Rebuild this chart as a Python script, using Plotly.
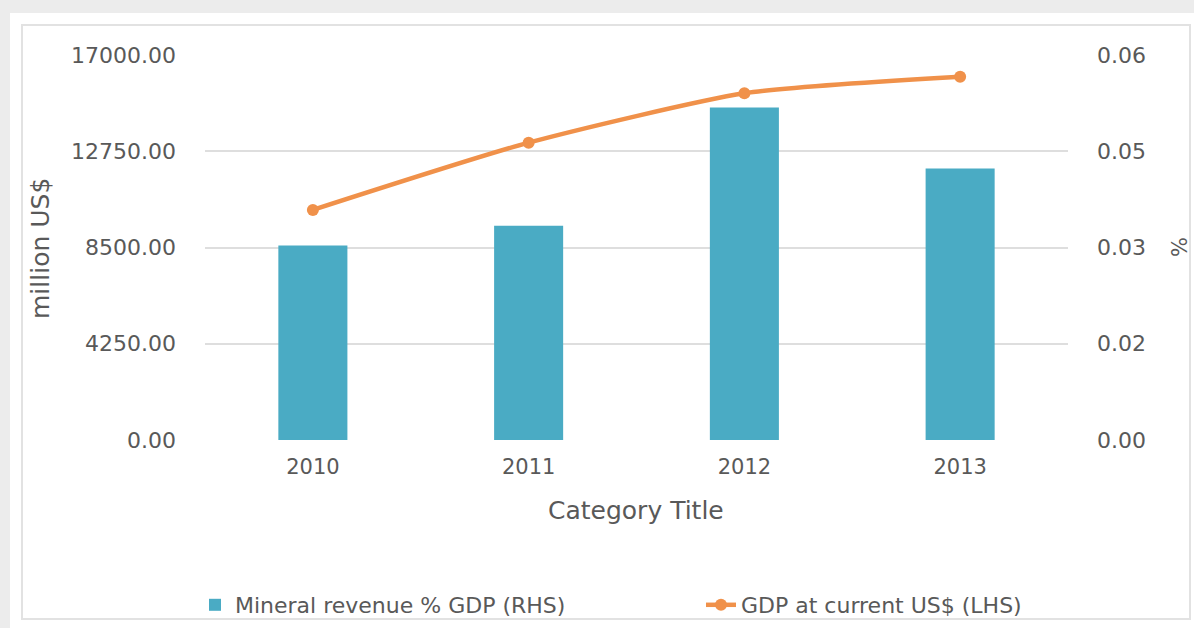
import plotly.graph_objects as go

# ---- data ----
years = ["2010", "2011", "2012", "2013"]
mineral_rev_pct = [0.0303, 0.0334, 0.0518, 0.0423]   # RHS (bars)
gdp_musd = [10160, 13130, 15310, 16040]               # LHS (line)
left_ticks = [0, 4250, 8500, 12750, 17000]
right_ticks = [0, 0.015, 0.03, 0.045, 0.06]
right_ticktext = ["0.00", "0.02", "0.03", "0.05", "0.06"]

W, H = 1194, 628
L, R, T, B = 205, 1068, 55, 440
PW, PH = R - L, B - T

def px(x):
    return (x - L) / PW

def py(y):
    return (B - y) / PH

FONT = "DejaVu Sans"
TXT = "#595959"
BAR = "#4aabc4"
LINE = "#f0914a"

fig = go.Figure()
fig.add_trace(go.Bar(
    x=years, y=mineral_rev_pct, name="Mineral revenue % GDP (RHS)",
    marker=dict(color=BAR, line=dict(width=0)), width=0.32, yaxis="y2",
    legend="legend",
))
fig.add_trace(go.Scatter(
    x=years, y=gdp_musd, name="GDP at current US$ (LHS)",
    mode="lines+markers",
    line=dict(color=LINE, width=4.5, shape="spline", smoothing=0.6),
    marker=dict(color=LINE, size=12), yaxis="y", legend="legend2",
))

leg_common = dict(orientation="h", xref="container", yref="container",
                  yanchor="middle", xanchor="left",
                  font=dict(size=22, color=TXT), bgcolor="rgba(0,0,0,0)")

fig.update_layout(
    width=W, height=H,
    margin=dict(l=L, r=W - R, t=T, b=H - B, autoexpand=False),
    paper_bgcolor="white", plot_bgcolor="white",
    font=dict(family=FONT, color=TXT, size=22),
    showlegend=True,
    legend=dict(x=195 / W, y=1 - 605 / H, **leg_common),
    legend2=dict(x=701 / W, y=1 - 605 / H, **leg_common),
    xaxis=dict(showgrid=False, zeroline=False, showline=False,
               ticks="", tickfont=dict(size=21, color=TXT),
               ticklabelstandoff=12),
    yaxis=dict(range=[0, 17000], tickvals=left_ticks, tickformat=".2f",
               showgrid=True, gridcolor="#dedede", gridwidth=2,
               zeroline=False, showline=False, ticks="",
               tickfont=dict(size=22, color=TXT), ticklabelstandoff=28),
    yaxis2=dict(range=[0, 0.06], tickvals=right_ticks, ticktext=right_ticktext,
                overlaying="y", side="right", showgrid=False, zeroline=False,
                showline=False, ticks="", tickfont=dict(size=22, color=TXT),
                ticklabelstandoff=28),
)

# background frame
shapes = [
    dict(type="rect", xref="paper", yref="paper", x0=px(0), x1=px(10), y0=py(H), y1=py(0),
         fillcolor="#ececec", line=dict(width=0), layer="below"),
    dict(type="rect", xref="paper", yref="paper", x0=px(0), x1=px(W), y0=py(13), y1=py(0),
         fillcolor="#ececec", line=dict(width=0), layer="below"),
    dict(type="rect", xref="paper", yref="paper", x0=px(22), x1=px(1190), y0=py(619), y1=py(25),
         fillcolor="rgba(0,0,0,0)", line=dict(width=2, color="#e2e2e2"), layer="below"),
]
fig.update_layout(shapes=shapes)

fig.add_annotation(text="million US$", xref="paper", yref="paper", x=px(41), y=py(249),
                   xanchor="center", yanchor="middle",
                   textangle=-90, showarrow=False, font=dict(size=25, color=TXT))
fig.add_annotation(text="%", xref="paper", yref="paper", x=px(1180), y=py(247),
                   xanchor="center", yanchor="middle",
                   textangle=-90, showarrow=False, font=dict(size=21, color=TXT))
fig.add_annotation(text="Category Title", xref="paper", yref="paper", x=px(636), y=py(510),
                   xanchor="center", yanchor="middle",
                   showarrow=False, font=dict(size=25, color=TXT))

fig.write_html("out.html")
